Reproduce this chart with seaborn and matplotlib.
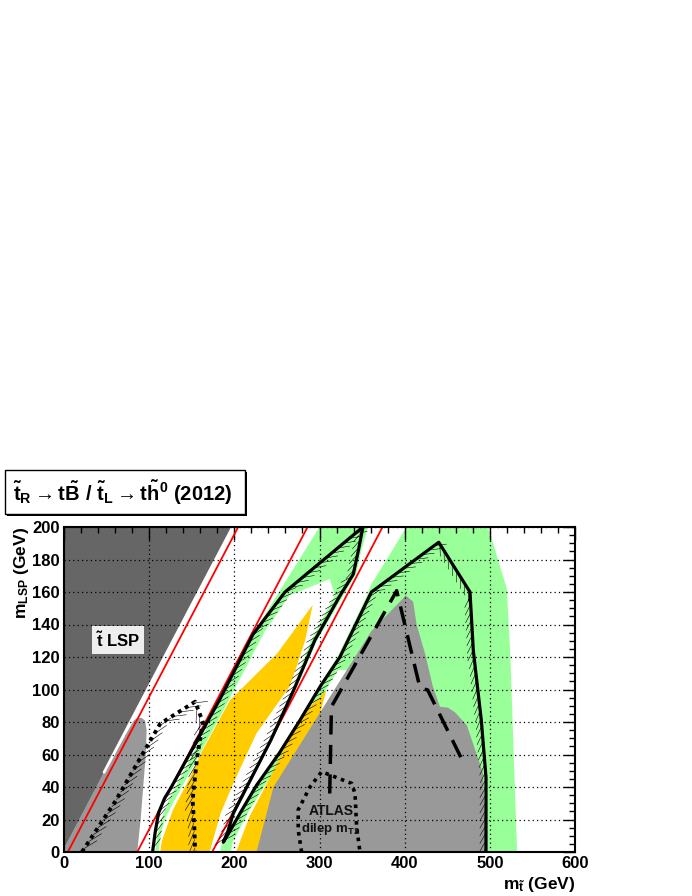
import matplotlib
matplotlib.use("Agg")
import matplotlib.pyplot as plt
import matplotlib.patheffects as pe
from matplotlib.patches import Rectangle
from matplotlib.ticker import MultipleLocator
import seaborn as sns

sns.set_style("white")
plt.rcParams['font.family'] = ['Liberation Sans', 'DejaVu Sans']
plt.rcParams['font.weight'] = 'bold'
plt.rcParams['text.color'] = 'black'
plt.rcParams['axes.labelcolor'] = 'black'
plt.rcParams['xtick.color'] = 'black'
plt.rcParams['ytick.color'] = 'black'
plt.rcParams['mathtext.fontset'] = 'custom'
plt.rcParams['mathtext.rm'] = 'Liberation Sans:bold'
plt.rcParams['mathtext.bf'] = 'Liberation Sans:bold'
plt.rcParams['mathtext.it'] = 'Liberation Sans:bold'
plt.rcParams['mathtext.sf'] = 'Liberation Sans:bold'

# ---------------- data (GeV) ----------------
x_ticks = [0, 100, 200, 300, 400, 500, 600]
y_ticks = [0, 20, 40, 60, 80, 100, 120, 140, 160, 180, 200]

# stop-LSP forbidden region
dark_x = [0, 198, 0]
dark_y = [2, 200, 200]
edge_x = [47, 198]
edge_y = [49, 200]

# light gray regions
gray1_x = [0, 0, 47, 82, 86, 91, 95, 97, 96, 93, 90, 86]
gray1_y = [0, 2, 49, 81, 82.5, 82.5, 81, 75, 60, 40, 20, 0]
gray2_x = [226, 246, 320, 361, 398, 401, 410, 414, 424, 433, 441.5, 451, 459, 473, 492, 496]
gray2_y = [0, 40, 102, 136, 156, 158, 154, 140, 122, 102, 89.4, 88.8, 86, 78, 48.6, 0]

# green regions
green1_x = [107, 110, 117, 124, 181, 220, 229, 256, 300, 357, 349, 343, 327, 297, 272, 245, 201, 190, 190]
green1_y = [0, 12, 24, 33, 90, 130, 140, 163, 200, 200, 185, 171, 157, 130, 100, 69, 24, 6, 0]
white1_x = [111, 114, 120, 128, 188, 226, 236, 265, 312, 318, 290, 268, 242, 198, 186, 183]
white1_y = [0, 12, 22, 30, 88, 126, 136, 158, 168, 158, 130, 100, 69, 24, 6, 0]
green3_x = [186, 186, 206, 251, 275, 299, 322, 355, 361, 380, 402, 498, 520, 524, 532]
green3_y = [0, 6, 25, 61, 81, 102, 121, 157, 165, 181, 200, 200, 162, 122, 0]
white2_x = [196, 198, 217, 236, 262, 286, 310, 322, 332, 325, 250, 232]
white2_y = [0, 6, 25, 41, 61, 81, 102, 112, 112, 100, 40, 0]

# yellow regions
yellow1_x = [113, 115, 128, 148, 162, 195, 250, 292, 283, 273, 265, 226, 199, 184, 171]
yellow1_y = [0, 7, 26, 46, 62, 93.5, 122, 152, 130, 114, 102, 73, 42.5, 24, 0]
yellow2_x = [202, 218, 244, 267, 290, 308, 300, 262, 240]
yellow2_y = [0, 22, 48, 73, 90, 99.5, 84, 40, 0]

# red kinematic lines (two end points each)
redA_x = [4.5, 204.5]
redA_y = [0, 200]
redB_x = [86, 286]
redB_y = [0, 200]
redC_x = [174, 374]
redC_y = [0, 200]

# combined solid exclusion contour
excl_x = [104, 107, 111, 118, 125, 183, 222, 259.5, 351, 345.6, 339.7, 324, 294.7, 270, 243,
          198.8, 192, 187, 195, 208, 226, 253, 277, 301, 324, 361, 440, 476.7, 480.6, 490, 495.5, 495.5]
excl_y = [0, 12, 24, 33, 39, 94, 134, 160, 200, 185.4, 171, 157.7, 130.5, 100, 69,
          23.8, 12, 6, 13, 25, 41, 61, 81, 102, 120, 160, 190.6, 160, 124, 81, 46, 0]

# dotted contour (left)
dot1_x = [21, 60, 93, 113, 154, 163, 156, 151, 153, 154]
dot1_y = [0, 31, 61, 79, 92.5, 80, 57, 32, 15, 0]
# ATLAS dilep mT2 dotted contour
dot2_x = [279, 275, 275, 288.8, 302.5, 337.8, 341.7, 343.6, 347.5]
dot2_y = [0, 13.5, 26, 40, 49.4, 42.2, 36, 15.6, 0]
# dashed contour
dash_x = [312, 314, 390.6, 418, 427, 468.5]
dash_y = [36, 89.4, 160.8, 101, 99.7, 55.6]

# ---------------- figure ----------------
fig = plt.figure(figsize=(6.92, 8.96), dpi=100)
ax = fig.add_axes([64 / 692, 44 / 896, 511 / 692, 325 / 896])

C_DARK = '#666666'
C_GRAY = '#999999'
C_GREEN = '#99ff99'
C_YEL = '#ffcc00'

ax.fill(green1_x, green1_y, color=C_GREEN, lw=0, zorder=1.0)
ax.fill(green3_x, green3_y, color=C_GREEN, lw=0, zorder=1.0)
ax.fill(white1_x, white1_y, color='white', lw=0, zorder=1.1)
ax.fill(white2_x, white2_y, color='white', lw=0, zorder=1.1)
ax.fill(yellow1_x, yellow1_y, color=C_YEL, lw=0, zorder=1.2)
ax.fill(yellow2_x, yellow2_y, color=C_YEL, lw=0, zorder=1.2)
ax.fill(gray1_x, gray1_y, color=C_GRAY, lw=0, zorder=1.3)
ax.fill(gray2_x, gray2_y, color=C_GRAY, lw=0, zorder=1.3)
ax.fill(dark_x, dark_y, color=C_DARK, lw=0, zorder=1.4)
ax.plot(edge_x, edge_y, color='white', lw=2.0, zorder=1.5)

# lines via seaborn
for rx, ry in [(redA_x, redA_y), (redB_x, redB_y), (redC_x, redC_y)]:
    sns.lineplot(x=rx, y=ry, sort=False, estimator=None, color='red', lw=1.3, ax=ax, zorder=3)

hatch = pe.withTickedStroke(spacing=5.5, angle=-30, length=1.6, linewidth=0.4)

sns.lineplot(x=excl_x, y=excl_y, sort=False, estimator=None, color='black', lw=0,
             ax=ax, zorder=3.5, path_effects=[hatch])
sns.lineplot(x=excl_x, y=excl_y, sort=False, estimator=None, color='black', lw=2.3,
             ax=ax, zorder=4)

sns.lineplot(x=dot1_x, y=dot1_y, sort=False, estimator=None, color='black', lw=0,
             ax=ax, zorder=3.5,
             path_effects=[pe.withTickedStroke(spacing=6, angle=-25, length=1.8, linewidth=0.4)])
sns.lineplot(x=dot1_x, y=dot1_y, sort=False, estimator=None, color='black', lw=2.8,
             linestyle=(0, (1, 1.1)), ax=ax, zorder=4)
sns.lineplot(x=dot2_x, y=dot2_y, sort=False, estimator=None, color='black', lw=2.6,
             linestyle=(0, (1, 1.3)), ax=ax, zorder=4)
sns.lineplot(x=dash_x, y=dash_y, sort=False, estimator=None, color='black', lw=2.5,
             linestyle=(0, (5.5, 3)), ax=ax, zorder=4)

# text inside plot
ax.text(63, 130.5, r'$\mathbf{\tilde{t}}$ LSP', ha='center', va='center', fontsize=12,
        fontweight='bold', zorder=5,
        bbox=dict(boxstyle='square,pad=0.25', fc='#eeeeee', ec='none'))
ax.text(314, 25, 'ATLAS', ha='center', va='center', fontsize=10, fontweight='bold',
        color='#111111', zorder=5)
ax.text(312.5, 14, r'dilep m$_{\mathregular{T2}}$', ha='center', va='center', fontsize=9.5,
        fontweight='bold', color='#111111', zorder=5)

# axes styling
ax.set_xlim(0, 600)
ax.set_ylim(0, 200)
ax.set_xticks(x_ticks)
ax.set_yticks(y_ticks)
ax.set_xticklabels([str(v) for v in x_ticks], fontsize=12, fontweight='bold')
ax.set_yticklabels([str(v) for v in y_ticks], fontsize=12, fontweight='bold')
ax.xaxis.set_minor_locator(MultipleLocator(20))
ax.yaxis.set_minor_locator(MultipleLocator(5))
ax.tick_params(which='both', direction='in', top=True, right=True, colors='black')
ax.tick_params(which='major', length=9, width=1.0, pad=3)
ax.tick_params(which='minor', length=4.5, width=1.0)
ax.set_axisbelow(False)
ax.grid(True, which='major', color='black', linestyle=(0, (1, 2.5)), lw=0.9)
for s in ax.spines.values():
    s.set_linewidth(1.5)
    s.set_color('black')
    s.set_zorder(6)

fig.text(22 / 692, 1 - 527 / 896, r'm$_{\mathregular{LSP}}$ (GeV)', rotation=90, ha='center',
         va='top', fontsize=12.5, fontweight='bold')
fig.text(575 / 692, 1 - 884 / 896, r'm$_{\tilde{\mathregular{t}}}$ (GeV)', ha='right',
         va='center', fontsize=12.5, fontweight='bold')

# title box with shadow
fig.patches.append(Rectangle((7 / 692, 1 - 516 / 896), 240 / 692, 44 / 896,
                             transform=fig.transFigure, fc='black', ec='black', lw=0, zorder=1))
fig.patches.append(Rectangle((5 / 692, 1 - 514 / 896), 240 / 692, 44 / 896,
                             transform=fig.transFigure, fc='white', ec='black', lw=1.0, zorder=2))
fig.text(13 / 692, 1 - 493 / 896,
         r'$\mathbf{\tilde{t}_R \rightarrow t\tilde{B}\ /\ \tilde{t}_L \rightarrow t\tilde{h}^0}$ (2012)',
         ha='left', va='center', fontsize=14.5, fontweight='bold', zorder=3)

fig.savefig('out.png', dpi=100)
